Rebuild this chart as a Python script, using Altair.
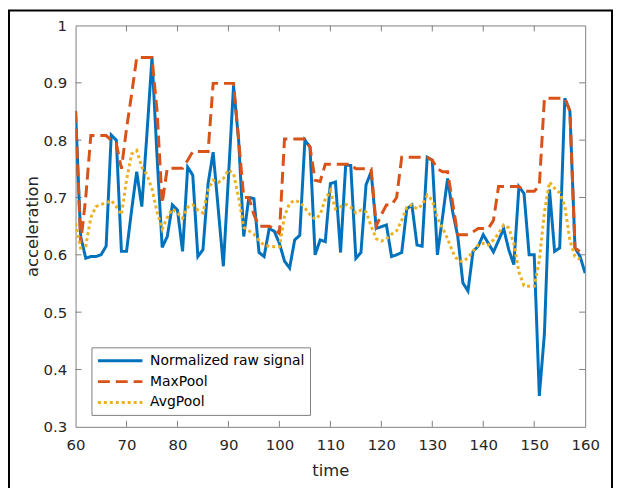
import altair as alt
import pandas as pd

# ---------------- data ----------------
raw_t = list(range(60, 161))
raw_signal = [
    0.851, 0.632, 0.594, 0.597, 0.597, 0.600, 0.615, 0.809, 0.800, 0.606,
    0.606, 0.678, 0.745, 0.684, 0.810, 0.944, 0.770, 0.613, 0.632, 0.687,
    0.678, 0.606, 0.753, 0.739, 0.597, 0.609, 0.724, 0.779, 0.680, 0.580,
    0.735, 0.895, 0.800, 0.632, 0.700, 0.698, 0.604, 0.597, 0.646, 0.641,
    0.620, 0.589, 0.577, 0.626, 0.634, 0.800, 0.788, 0.600, 0.626, 0.623,
    0.724, 0.727, 0.604, 0.756, 0.756, 0.594, 0.604, 0.722, 0.745, 0.646,
    0.649, 0.652, 0.597, 0.600, 0.604, 0.680, 0.687, 0.617, 0.615, 0.770,
    0.765, 0.600, 0.665, 0.733, 0.675, 0.632, 0.551, 0.537, 0.606, 0.615,
    0.635, 0.620, 0.605, 0.625, 0.646, 0.609, 0.583, 0.719, 0.707, 0.600,
    0.600, 0.354, 0.462, 0.714, 0.606, 0.612, 0.873, 0.851, 0.612, 0.597,
    0.568,
]

pool_t = list(range(60, 160))
max_pool = [
    0.851, 0.620, 0.700, 0.808, 0.808, 0.808, 0.808, 0.800, 0.794, 0.750,
    0.820, 0.880, 0.944, 0.944, 0.944, 0.944, 0.850, 0.690, 0.751, 0.751,
    0.751, 0.751, 0.765, 0.780, 0.780, 0.780, 0.780, 0.899, 0.899, 0.899,
    0.899, 0.899, 0.800, 0.700, 0.700, 0.670, 0.650, 0.650, 0.650, 0.645,
    0.637, 0.802, 0.802, 0.802, 0.802, 0.802, 0.788, 0.730, 0.728, 0.758,
    0.758, 0.758, 0.758, 0.758, 0.758, 0.750, 0.750, 0.750, 0.750, 0.650,
    0.670, 0.687, 0.687, 0.700, 0.770, 0.770, 0.770, 0.770, 0.770, 0.770,
    0.765, 0.750, 0.745, 0.745, 0.690, 0.635, 0.635, 0.635, 0.640, 0.646,
    0.646, 0.646, 0.660, 0.719, 0.719, 0.719, 0.719, 0.719, 0.711, 0.711,
    0.711, 0.720, 0.873, 0.873, 0.873, 0.873, 0.873, 0.851, 0.612, 0.605,
]

avg_pool = [
    0.655, 0.612, 0.615, 0.665, 0.684, 0.688, 0.690, 0.695, 0.684, 0.670,
    0.730, 0.776, 0.782, 0.753, 0.740, 0.715, 0.675, 0.645, 0.665, 0.680,
    0.673, 0.664, 0.683, 0.687, 0.678, 0.673, 0.713, 0.730, 0.726, 0.733,
    0.748, 0.742, 0.700, 0.648, 0.642, 0.636, 0.625, 0.617, 0.615, 0.614,
    0.614, 0.667, 0.690, 0.695, 0.692, 0.682, 0.670, 0.662, 0.670, 0.697,
    0.712, 0.680, 0.684, 0.688, 0.683, 0.673, 0.678, 0.675, 0.650, 0.628,
    0.624, 0.628, 0.636, 0.642, 0.660, 0.683, 0.687, 0.680, 0.687, 0.704,
    0.695, 0.664, 0.647, 0.628, 0.605, 0.590, 0.588, 0.595, 0.607, 0.617,
    0.620, 0.617, 0.626, 0.637, 0.652, 0.647, 0.620, 0.570, 0.546, 0.545,
    0.545, 0.590, 0.675, 0.727, 0.716, 0.708, 0.685, 0.625, 0.597, 0.592,
]

series_names = ["Normalized raw signal", "MaxPool", "AvgPool"]
series_colors = ["#0072BD", "#D95319", "#EDB120"]
series_dashes = [[1, 0], [12, 6], [3, 3]]

x_ticks = [70, 80, 90, 100, 110, 120, 130, 140, 150]
y_ticks = [0.4, 0.5, 0.6, 0.7, 0.8, 0.9]
x_labels = [60, 70, 80, 90, 100, 110, 120, 130, 140, 150, 160]
y_labels = [0.3, 0.4, 0.5, 0.6, 0.7, 0.8, 0.9, 1.0]

# ---------------- tables ----------------
df = pd.concat([
    pd.DataFrame({"time": raw_t, "value": raw_signal, "series": series_names[0]}),
    pd.DataFrame({"time": pool_t, "value": max_pool, "series": series_names[1]}),
    pd.DataFrame({"time": pool_t, "value": avg_pool, "series": series_names[2]}),
], ignore_index=True)
xt = pd.DataFrame({"t": x_ticks})
yt = pd.DataFrame({"v": y_ticks})
one = pd.DataFrame({"k": [0]})

W, H = 513, 404
FONT = "DejaVu Sans"
AX = "#7f7f7f"

xscale = alt.Scale(domain=[60, 160], nice=False, zero=False)
yscale = alt.Scale(domain=[0.3, 1.0], nice=False, zero=False)

# wide, flat legend line: unit path scaled by sqrt(size)/2 = 7 px -> 45 px long
leg = alt.Legend(
    title=None, orient="none", legendX=16, legendY=324, direction="vertical",
    fillColor="white", strokeColor=AX, padding=5, labelFont=FONT,
    labelFontSize=14, labelColor="#000000", symbolType="M-1,0H5.4",
    symbolSize=196, symbolStrokeWidth=3, rowPadding=5, labelOffset=37,
)
color = alt.Color("series:N", scale=alt.Scale(domain=series_names, range=series_colors), legend=leg)
dash = alt.StrokeDash("series:N", scale=alt.Scale(domain=series_names, range=series_dashes), legend=leg)

xenc = alt.X("time:Q", scale=xscale, axis=alt.Axis(
    values=x_labels, title="time", grid=False, ticks=False, domain=False,
    labelFlush=False, labelPadding=11, titleX=W / 2, titleY=49,
    titleBaseline="alphabetic", titleAlign="center"))
yenc = alt.Y("value:Q", scale=yscale, axis=alt.Axis(
    values=y_labels, format=".1~f", title="acceleration", grid=False, ticks=False,
    domain=False, labelFlush=False, labelPadding=9, titleAngle=270, titleX=-38,
    titleY=H / 2, titleBaseline="alphabetic", titleAlign="center"))

lines = []
for name in series_names:
    lines.append(
        alt.Chart(df).transform_filter(alt.datum.series == name)
        .mark_line(strokeWidth=3, strokeCap="butt", clip=True)
        .encode(x=xenc, y=yenc, color=color, strokeDash=dash)
    )

tick_style = dict(color=AX, strokeWidth=1)
tb = alt.Chart(xt).mark_rule(**tick_style).encode(x=alt.X("t:Q", scale=xscale), y=alt.value(H), y2=alt.value(H - 6))
tt = alt.Chart(xt).mark_rule(**tick_style).encode(x=alt.X("t:Q", scale=xscale), y=alt.value(0), y2=alt.value(6))
tl = alt.Chart(yt).mark_rule(**tick_style).encode(y=alt.Y("v:Q", scale=yscale), x=alt.value(0), x2=alt.value(6))
tr = alt.Chart(yt).mark_rule(**tick_style).encode(y=alt.Y("v:Q", scale=yscale), x=alt.value(W), x2=alt.value(W - 6))

frame = alt.Chart(one).mark_rect(fillOpacity=0, stroke="black", strokeWidth=2).encode(
    x=alt.value(-67), x2=alt.value(540), y=alt.value(-15), y2=alt.value(480))

chart = alt.layer(tb, tt, tl, tr, *lines, frame).properties(
    width=W, height=H,
    autosize=alt.AutoSizeParams(type="none"),
    padding={"left": 68, "top": 16, "right": 28, "bottom": 60},
    background="white",
).configure_view(stroke=AX, strokeWidth=1).configure_axis(
    labelFont=FONT, labelFontSize=15, labelColor="#262626",
    titleFont=FONT, titleFontSize=16.5, titleFontWeight="normal", titleColor="#262626",
)

chart.save("out.html", embed_options={"renderer": "svg", "actions": False})
